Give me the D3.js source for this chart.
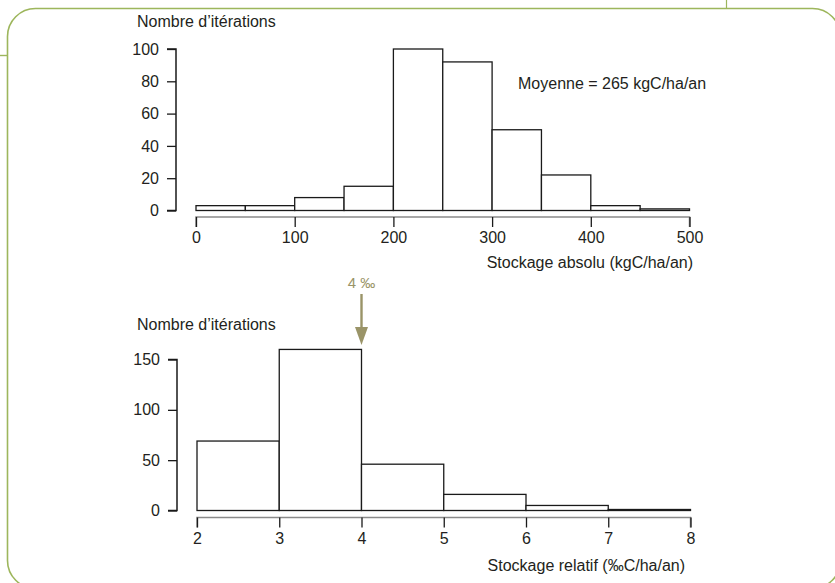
<!DOCTYPE html>
<html><head><meta charset="utf-8">
<script src="https://cdn.jsdelivr.net/npm/d3@7"></script>
<style>
body{margin:0;background:#fff;}
svg{display:block;font-family:"Liberation Sans",Arial,Helvetica,sans-serif;}
</style></head>
<body><svg id="c" width="835" height="583"></svg>
<script>
// Top histogram: absolute storage (kgC/ha/an), bins of 50
const absBinStarts = [0,50,100,150,200,250,300,350,400,450];
const absBinWidth = 50;
const absCounts = [3,3,8,15,100,92,50,22,3,1];
const absXTicks = [0,100,200,300,400,500];
const absYTicks = [0,20,40,60,80,100];
// Bottom histogram: relative storage (‰C/ha/an), bins of 1
const relBinStarts = [2,3,4,5,6,7];
const relBinWidth = 1;
const relCounts = [69,160,46,16,5,1];
const relXTicks = [2,3,4,5,6,7,8];
const relYTicks = [0,50,100,150];
const yTitle = "Nombre d’itérations";
const absXTitle = "Stockage absolu (kgC/ha/an)";
const relXTitle = "Stockage relatif (‰C/ha/an)";
const meanLabel = "Moyenne = 265 kgC/ha/an";
const markerValue = 4;
const markerLabel = "4 ‰";

const svg = d3.select("#c");
const green = "#9db65c";
const textCol = "#231f20";
const olive = "#9a9468";
const fmt = d3.format("d");

// frame
svg.append("rect").attr("x",7.5).attr("y",8.5).attr("width",833).attr("height",580)
  .attr("rx",28).attr("ry",28).attr("fill","none").attr("stroke",green).attr("stroke-width",1.6);
svg.append("line").attr("x1",0).attr("x2",7).attr("y1",55.5).attr("y2",55.5).attr("stroke",green).attr("stroke-width",1.4);
svg.append("line").attr("x1",726.5).attr("x2",726.5).attr("y1",0).attr("y2",8).attr("stroke",green).attr("stroke-width",1.2);

function hist(cfg){
  const g = svg.append("g");
  const x = d3.scaleLinear().domain(cfg.xDomain).range(cfg.xRange);
  const y = d3.scaleLinear().domain(cfg.yDomain).range(cfg.yRange);
  // bars
  g.selectAll("rect.bar").data(cfg.counts).join("rect")
    .attr("x",(d,i)=>x(cfg.starts[i]))
    .attr("width",(d,i)=>x(cfg.starts[i]+cfg.bw)-x(cfg.starts[i]))
    .attr("y",d=>y(d))
    .attr("height",d=>y(0)-y(d))
    .attr("fill","#fff").attr("stroke","#1a1a1a").attr("stroke-width",1.3);
  // y axis
  const ya = g.append("g").attr("transform",`translate(${cfg.yAxisX},0)`)
    .call(d3.axisLeft(y).tickValues(cfg.yTicks).tickFormat(fmt).tickSize(9).tickPadding(8));
  ya.select(".domain").attr("stroke","#1a1a1a").attr("stroke-width",1.5).attr("d",`M-9,${y(cfg.yTicks[cfg.yTicks.length-1])}H0V${y(0)}H-9`);
  ya.selectAll(".tick line").attr("stroke","#1a1a1a").attr("stroke-width",1.3);
  ya.selectAll(".tick text").attr("font-size",16).attr("fill",textCol).attr("font-family","Liberation Sans, Arial, sans-serif");
  // x axis
  const xa = g.append("g").attr("transform",`translate(0,${cfg.xAxisY})`)
    .call(d3.axisBottom(x).tickValues(cfg.xTicks).tickFormat(fmt).tickSize(10).tickPadding(5));
  xa.select(".domain").attr("stroke","#8a8a8a").attr("stroke-width",1.5)
    .attr("d",`M${x(cfg.xDomain[0])},10V0H${x(cfg.xDomain[1])}V10`);
  xa.selectAll(".tick line").attr("stroke","#1a1a1a").attr("stroke-width",1.3);
  xa.selectAll(".tick text").attr("font-size",16).attr("fill",textCol).attr("font-family","Liberation Sans, Arial, sans-serif");
  // titles
  g.append("text").attr("x",137).attr("y",cfg.yTitleY).attr("font-size",16).attr("fill",textCol).text(yTitle);
  g.append("text").attr("x",cfg.xTitleX).attr("y",cfg.xTitleY).attr("text-anchor","end")
    .attr("font-size",16).attr("fill",textCol).text(cfg.xTitle);
  return {x,y,g};
}

const topChart = hist({
  starts:absBinStarts,bw:absBinWidth,counts:absCounts,
  xDomain:[0,500],xRange:[196,689.5],yDomain:[0,100],yRange:[210.5,49],
  xTicks:absXTicks,yTicks:absYTicks,yAxisX:176,xAxisY:217,
  yTitleY:27,xTitle:absXTitle,xTitleX:693,xTitleY:268
});
topChart.g.append("text").attr("x",518).attr("y",89).attr("font-size",16).attr("fill",textCol).text(meanLabel);

const botChart = hist({
  starts:relBinStarts,bw:relBinWidth,counts:relCounts,
  xDomain:[2,8],xRange:[197,690.5],yDomain:[0,150],yRange:[510.5,359.5],
  xTicks:relXTicks,yTicks:relYTicks,yAxisX:177,xAxisY:517.5,
  yTitleY:330,xTitle:relXTitle,xTitleX:685,xTitleY:571
});
// marker arrow at 4‰
const mx = botChart.x(markerValue);
botChart.g.append("text").attr("x",mx).attr("y",288).attr("text-anchor","middle")
  .attr("font-size",15).attr("fill",olive).text(markerLabel);
botChart.g.append("line").attr("x1",mx).attr("x2",mx).attr("y1",294).attr("y2",330)
  .attr("stroke",olive).attr("stroke-width",2.4);
botChart.g.append("path").attr("d",`M${mx-6.5},327L${mx+6.5},327L${mx},345Z`).attr("fill",olive);
</script></body></html>
